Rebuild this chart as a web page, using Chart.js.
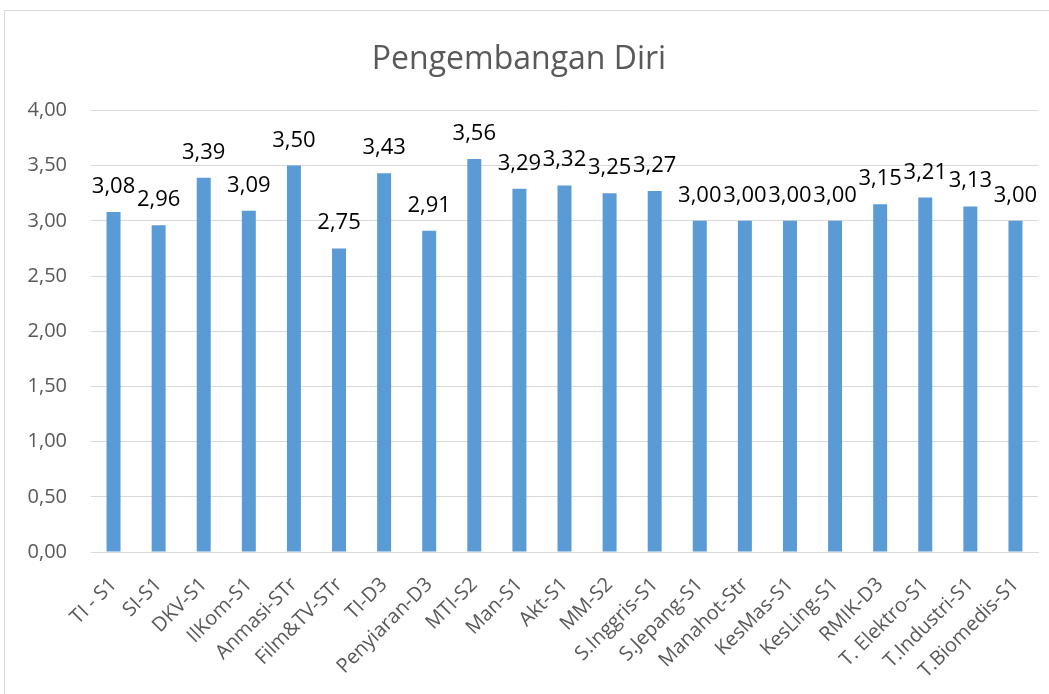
<!DOCTYPE html>
<html>
<head>
<meta charset="utf-8">
<script src="https://cdn.jsdelivr.net/npm/chart.js@4/dist/chart.umd.min.js"></script>
<style>
    html, body { margin: 0; padding: 0; background: #fff; overflow: hidden; }
    #wrap { position: relative; width: 1049px; height: 694px; }
    #frame {
        position: absolute; left: 4px; top: 10px; width: 1100px; height: 1000px;
        border: 1.5px solid #d9d9d9; box-sizing: border-box;
    }
    #chart { position: absolute; left: 0; top: 0; }
</style>
</head>
<body>
<div id="wrap">
    <div id="frame"></div>
    <canvas id="chart" width="1049" height="694"></canvas>
</div>
<script>
const programs = [
    'TI - S1', 'SI-S1', 'DKV-S1', 'IlKom-S1', 'Anmasi-STr', 'Film&TV-STr', 'TI-D3',
    'Penyiaran-D3', 'MTI-S2', 'Man-S1', 'Akt-S1', 'MM-S2', 'S.Inggris-S1', 'S.Jepang-S1',
    'Manahot-Str', 'KesMas-S1', 'KesLing-S1', 'RMIK-D3', 'T. Elektro-S1', 'T.Industri-S1', 'T.Biomedis-S1'
];
const scores = [
    3.08, 2.96, 3.39, 3.09, 3.50, 2.75, 3.43,
    2.91, 3.56, 3.29, 3.32, 3.25, 3.27, 3.00,
    3.00, 3.00, 3.00, 3.15, 3.21, 3.13, 3.00
];
const yTicks = [0, 0.5, 1, 1.5, 2, 2.5, 3, 3.5, 4];
const chartTitle = 'Pengembangan Diri';

const fmt = v => v.toFixed(2).replace('.', ',');

// draws the value above each bar, like excel data labels
const valueLabels = {
    id: 'valueLabels',
    afterDatasetsDraw(chart) {
        const ctx = chart.ctx;
        const meta = chart.getDatasetMeta(0);
        ctx.save();
        ctx.font = '22px "Open Sans"';
        ctx.fillStyle = '#000';
        ctx.textAlign = 'center';
        ctx.textBaseline = 'alphabetic';
        meta.data.forEach((bar, i) => {
            ctx.fillText(fmt(scores[i]), bar.x, bar.y - 19);
        });
        ctx.restore();
    }
};

new Chart(document.getElementById('chart'), {
    type: 'bar',
    data: {
        labels: programs,
        datasets: [{
            data: scores,
            backgroundColor: '#5b9bd5',
            borderWidth: 0,
            barPercentage: 0.31,
            categoryPercentage: 1
        }]
    },
    options: {
        responsive: false,
        animation: false,
        layout: { padding: { left: 0, right: 11, top: 0, bottom: 0 } },
        plugins: {
            legend: { display: false },
            tooltip: { enabled: false },
            title: {
                display: true,
                text: chartTitle,
                color: '#595959',
                font: { family: 'Open Sans', size: 32, weight: 'normal', lineHeight: 1.2 },
                padding: { top: 41, bottom: 31 }
            }
        },
        scales: {
            x: {
                grid: { display: false },
                border: { color: '#d9d9d9', width: 1 },
                ticks: {
                    color: '#595959',
                    font: { family: 'Open Sans', size: 20 },
                    minRotation: 45,
                    maxRotation: 45,
                    autoSkip: false,
                    padding: 13
                },
                afterFit(scale) { scale.height = 142; }
            },
            y: {
                min: 0,
                max: 4,
                afterBuildTicks(scale) { scale.ticks = yTicks.map(v => ({ value: v })); },
                grid: { color: '#d9d9d9', lineWidth: 1, drawTicks: false },
                border: { display: false },
                ticks: {
                    color: '#595959',
                    font: { family: 'Open Sans', size: 20 },
                    padding: 24,
                    callback: v => fmt(v)
                },
                afterFit(scale) { scale.width = 91; }
            }
        }
    },
    plugins: [valueLabels]
});
</script>
</body>
</html>
